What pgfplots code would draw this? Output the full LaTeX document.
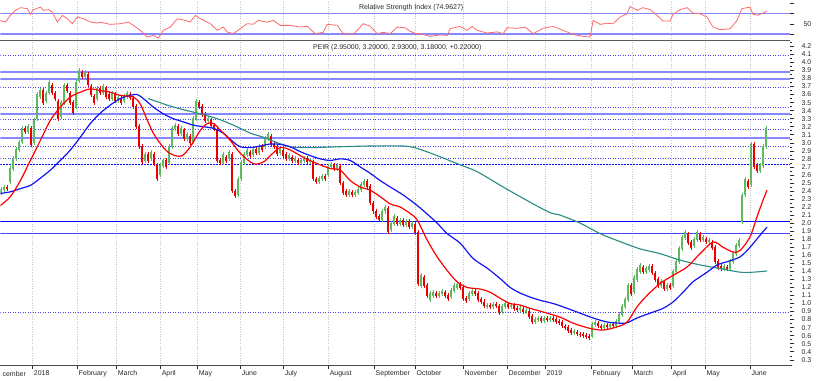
\documentclass[border=0pt]{standalone}
\usepackage{pgfplots}
\pgfplotsset{compat=1.18}
\usepackage{pgfplotstable}
\usepackage{fontspec}
\setmainfont{Liberation Sans}
\definecolor{upg}{RGB}{95,185,95}
\definecolor{dnr}{RGB}{235,0,0}
\definecolor{lbl}{RGB}{135,135,255}
\definecolor{dotbl}{RGB}{70,70,255}
\definecolor{dbl}{RGB}{20,20,240}
\definecolor{tealma}{RGB}{40,140,130}
\definecolor{rsir}{RGB}{255,105,105}
\definecolor{gridg}{RGB}{195,195,195}
\definecolor{txt}{RGB}{40,40,40}

\pgfplotstableread{
x o c
1 2.38 2.42
4 2.42 2.45
7 2.45 2.43
10 2.52 2.68
13 2.68 2.80
16 2.80 2.92
19 2.92 3.00
22 3.02 3.18
25 3.18 3.14
28 3.14 3.20
31 3.18 2.98
34 3.00 3.28
37 3.30 3.60
40 3.58 3.65
43 3.65 3.50
46 3.52 3.62
49 3.62 3.75
52 3.72 3.62
55 3.62 3.55
58 3.52 3.30
61 3.32 3.50
64 3.50 3.72
67 3.72 3.65
70 3.62 3.50
73 3.50 3.38
76 3.45 3.75
79 3.78 3.90
82 3.88 3.82
85 3.82 3.88
88 3.85 3.72
91 3.70 3.60
94 3.58 3.50
97 3.55 3.68
100 3.68 3.62
103 3.62 3.70
106 3.68 3.58
109 3.60 3.55
112 3.55 3.62
115 3.60 3.52
118 3.52 3.56
121 3.55 3.50
124 3.52 3.58
127 3.58 3.62
130 3.60 3.56
133 3.55 3.45
136 3.45 3.20
139 3.20 2.95
142 2.95 2.76
145 2.78 2.85
148 2.85 2.78
151 2.80 2.88
154 2.85 2.74
157 2.72 2.55
160 2.60 2.72
163 2.72 2.78
166 2.78 2.70
169 2.75 2.95
172 2.95 3.18
175 3.18 3.22
178 3.20 3.12
181 3.12 3.18
184 3.15 3.05
187 3.05 3.10
190 3.08 3.00
193 3.02 3.30
196 3.30 3.52
199 3.50 3.45
202 3.45 3.35
205 3.35 3.28
208 3.28 3.30
211 3.28 3.22
214 3.22 3.18
217 3.15 2.78
220 2.78 2.75
223 2.75 2.85
226 2.82 2.78
229 2.80 2.88
232 2.85 2.40
235 2.40 2.34
238 2.36 2.55
241 2.55 2.75
244 2.75 2.85
247 2.85 2.90
250 2.88 2.84
253 2.85 2.92
256 2.92 2.88
259 2.88 2.95
262 2.95 2.92
265 2.95 3.05
268 3.05 3.10
271 3.08 2.98
274 2.98 2.95
277 2.95 2.86
280 2.88 2.92
283 2.90 2.84
286 2.85 2.80
289 2.80 2.84
292 2.82 2.78
295 2.78 2.80
298 2.78 2.75
301 2.75 2.78
304 2.78 2.80
307 2.80 2.76
310 2.76 2.78
313 2.76 2.55
316 2.55 2.52
319 2.52 2.56
322 2.55 2.58
325 2.58 2.55
328 2.60 2.70
331 2.70 2.73
334 2.72 2.68
337 2.68 2.72
340 2.70 2.50
343 2.50 2.38
346 2.40 2.36
349 2.36 2.40
352 2.38 2.35
355 2.35 2.38
358 2.38 2.42
361 2.42 2.48
364 2.48 2.52
367 2.52 2.46
370 2.46 2.25
373 2.25 2.15
376 2.15 2.08
379 2.08 2.04
382 2.05 2.15
385 2.15 2.20
388 2.18 1.90
391 1.92 2.00
394 2.00 2.08
397 2.06 2.00
400 2.00 2.04
403 2.04 1.98
406 1.98 2.02
409 2.02 1.96
412 1.96 2.00
415 1.98 1.88
418 1.88 1.25
421 1.22 1.35
424 1.32 1.22
427 1.22 1.10
430 1.05 1.12
433 1.10 1.14
436 1.12 1.10
439 1.10 1.12
442 1.12 1.15
445 1.14 1.10
448 1.10 1.06
451 1.08 1.16
454 1.16 1.22
457 1.20 1.24
460 1.24 1.20
463 1.20 1.06
466 1.06 1.04
469 1.06 1.12
472 1.12 1.15
475 1.15 1.12
478 1.12 1.05
481 1.05 1.02
484 1.02 0.98
487 0.96 0.98
490 0.98 0.96
493 0.96 0.99
496 0.99 0.97
499 0.96 0.89
502 0.90 0.96
505 0.96 1.00
508 0.99 0.96
511 0.96 0.98
514 0.98 0.94
517 0.94 0.92
520 0.92 0.94
523 0.93 0.90
526 0.90 0.92
529 0.90 0.84
532 0.84 0.78
535 0.78 0.80
538 0.80 0.82
541 0.82 0.79
544 0.79 0.82
547 0.82 0.80
550 0.80 0.82
553 0.82 0.80
556 0.80 0.78
559 0.78 0.76
562 0.76 0.72
565 0.72 0.70
568 0.70 0.66
571 0.66 0.64
574 0.64 0.65
577 0.64 0.62
580 0.62 0.61
583 0.61 0.60
586 0.60 0.59
589 0.59 0.58
592 0.60 0.74
595 0.74 0.76
598 0.75 0.72
601 0.72 0.70
604 0.70 0.73
607 0.73 0.71
610 0.71 0.74
613 0.74 0.72
616 0.72 0.78
619 0.78 0.86
622 0.86 0.96
625 0.96 1.05
628 1.05 1.22
631 1.22 1.12
634 1.15 1.32
637 1.30 1.42
640 1.40 1.48
643 1.45 1.40
646 1.40 1.44
649 1.42 1.46
652 1.46 1.38
655 1.38 1.30
658 1.30 1.22
661 1.22 1.28
664 1.26 1.18
667 1.18 1.22
670 1.22 1.20
673 1.22 1.40
676 1.40 1.52
679 1.52 1.68
682 1.68 1.82
685 1.82 1.88
688 1.86 1.76
691 1.76 1.70
694 1.72 1.80
697 1.80 1.88
700 1.86 1.80
703 1.80 1.82
706 1.80 1.77
709 1.77 1.78
712 1.76 1.70
715 1.70 1.52
718 1.52 1.45
721 1.46 1.44
724 1.44 1.46
727 1.45 1.43
730 1.44 1.52
733 1.52 1.62
736 1.62 1.72
739 1.72 1.78
742 2.02 2.35
745 2.35 2.55
748 2.52 2.45
751 2.48 2.98
754 2.98 2.70
757 2.72 2.66
760 2.66 2.72
763 2.72 2.95
766 2.95 3.18
}\candles

\pgfplotsset{
  chartbase/.style={
    scale only axis, width=790bp,
    xmin=0, xmax=790,
    axis line style={draw=none},
    xtick={32,77,116,160,197,240,283,328,374,415,463,507,545,591,632,671,705,750},
    xmajorgrids,
    major grid style={gridg, dotted, line width=0.8bp},
    tick align=outside,
    xtick pos=left, ytick pos=right, yticklabel pos=right,
    tick style={txt, line width=0.5bp},
    major tick length=4bp, minor tick length=2bp,
    tick label style={font=\fontsize{7}{8}\selectfont, text=txt},
    /pgf/number format/assume math mode=true,
    clip=true,
  },
  candle/.style 2 args={only marks, mark size=0pt, mark options={draw=none, fill=none}, forget plot,
    error bars/.cd, y dir=both, y explicit, error mark=none,
    error bar style={draw=#1, line width=#2}},
}

\begin{document}
\begin{tikzpicture}
\path (0,0) rectangle (821bp,380bp);

% ---------- RSI panel ----------
\begin{axis}[chartbase, at={(0bp,340bp)}, anchor=south west, height=40bp,
  ymin=17.1, ymax=96.3,
  xticklabels={}, xtick style={draw=none},
  ytick={30,50,70,90}, yticklabels={,50,,},
  yticklabel style={anchor=west, xshift=6bp},
]
\addplot[color=lbl, mark=none, line width=1.5bp] coordinates {(0,70) (400,70) (790,70)};
\addplot[color=lbl, mark=none, line width=1.8bp] coordinates {(0,30) (400,30) (790,30)};
\addplot[color=rsir, line width=0.8bp, mark=none] coordinates {
(0,56.7) (5,53.4) (10,66.6) (15,76.5) (20,81.9) (27,80) (30,68.6) (33,78) (40,83) (43,76.5)
(48,78) (52,73.2) (57,53.4) (62,66.6) (67,60) (72,50.2) (77,63.3) (83,60) (90,53.4) (97,51.4)
(100,53) (110,48.8) (120,50) (128,53.4) (133,46.8) (140,37) (147,23.7) (153,27) (158,21.7) (163,37)
(170,43.5) (177,60) (185,56.7) (190,53.4) (195,66.6) (200,60) (210,50.2) (217,37) (223,43.5) (227,33.6)
(233,30.4) (240,40.3) (247,50.2) (253,49) (258,56.7) (267,53) (273,56.7) (280,46.8) (290,46.8) (300,43.5)
(307,45) (315,30.4) (323,33) (327,48.8) (337,47) (343,30.4) (353,29) (357,37) (363,50.2) (370,45)
(377,30.4) (383,33) (390,30.4) (397,43.5) (405,42) (410,35) (415,31) (420,30.4) (430,25) (440,28)
(447,27) (450,40.3) (460,44.8) (467,37) (472,44.8) (477,37) (487,31.6) (497,34) (503,30.4) (507,42.2)
(517,41) (525,43.5) (533,30.4) (543,41) (553,44.8) (563,37) (573,29) (583,25) (590,23.7) (593,56.7)
(600,48.8) (607,51) (613,50) (620,63.3) (627,70) (630,84.4) (637,76.5) (643,81.9) (650,78) (657,66.6)
(663,55.4) (670,55.4) (673,68.6) (680,78) (687,81.9) (693,71.2) (700,70) (707,63.3) (713,43.5) (720,38.3)
(730,40) (737,56.7) (742,80) (750,83) (753,68.6) (758,67) (767,74.96)};
\end{axis}

% ---------- Price panel ----------
\begin{axis}[chartbase, at={(0bp,15bp)}, anchor=south west, height=324bp,
  ymin=0.2323, ymax=4.262,
  xticklabels={2018,February,March,April,May,June,July,August,September,October,November,December,2019,February,March,April,May,June},
  xticklabel style={anchor=north west, xshift=-2bp, yshift=2bp},
  minor x tick num=3,
  ytick={0.3,0.4,...,4.25},
  minor y tick num=1,
  yticklabel style={anchor=west, xshift=4bp, /pgf/number format/.cd, fixed, fixed zerofill, precision=1},
]
% support / resistance lines
\addplot[color=lbl, mark=none, line width=1.8bp] coordinates {(0,3.885) (400,3.885) (790,3.885)};
\addplot[color=lbl, mark=none, line width=1.8bp] coordinates {(0,3.798) (400,3.798) (790,3.798)};
\addplot[color=lbl, mark=none, line width=1.8bp] coordinates {(0,3.358) (400,3.358) (790,3.358)};
\addplot[color=lbl, mark=none, line width=1.8bp] coordinates {(0,3.060) (400,3.060) (790,3.060)};
\addplot[color=dotbl, mark=none, dash pattern=on 1bp off 1.5bp, line width=1bp] coordinates {(0,4.084) (400,4.084) (790,4.084)};
\addplot[color=dotbl, mark=none, dash pattern=on 1bp off 1.5bp, line width=1bp] coordinates {(0,3.686) (400,3.686) (790,3.686)};
\addplot[color=dotbl, mark=none, dash pattern=on 1bp off 1.5bp, line width=1bp] coordinates {(0,3.440) (400,3.440) (790,3.440)};
\addplot[color=dotbl, mark=none, dash pattern=on 1bp off 1.5bp, line width=1bp] coordinates {(0,3.288) (400,3.288) (790,3.288)};
\addplot[color=dotbl, mark=none, dash pattern=on 1bp off 1.5bp, line width=1bp] coordinates {(0,3.168) (400,3.168) (790,3.168)};
\addplot[color=dotbl, mark=none, dash pattern=on 1bp off 1.5bp, line width=1bp] coordinates {(0,2.948) (400,2.948) (790,2.948)};
\addplot[color=dotbl, mark=none, dash pattern=on 1bp off 1.5bp, line width=1bp] coordinates {(0,2.807) (400,2.807) (790,2.807)};
\addplot[color=dotbl, mark=none, dash pattern=on 1bp off 1.5bp, line width=1bp] coordinates {(0,0.888) (400,0.888) (790,0.888)};
\addplot[color=blue, mark=none, dash pattern=on 2bp off 1bp, line width=1.5bp] coordinates {(0,2.732) (400,2.732) (790,2.732)};
\addplot[color=blue, mark=none, line width=1.5bp] coordinates {(0,2.023) (400,2.023) (790,2.023)};
\addplot[color=dotbl, mark=none, line width=1.1bp] coordinates {(0,1.870) (400,1.870) (790,1.870)};

% candles: wicks
\addplot[candle={upg}{0.6bp}]
  table[x=x, y expr={\thisrow{c}>=\thisrow{o} ? (\thisrow{o}+\thisrow{c})/2 : -10},
        y error expr={abs(\thisrow{c}-\thisrow{o})/2+0.03}] {\candles};
\addplot[candle={dnr}{0.6bp}]
  table[x=x, y expr={\thisrow{c}<\thisrow{o} ? (\thisrow{o}+\thisrow{c})/2 : -10},
        y error expr={abs(\thisrow{c}-\thisrow{o})/2+0.03}] {\candles};
% candles: bodies
\addplot[candle={upg}{2bp}]
  table[x=x, y expr={\thisrow{c}>=\thisrow{o} ? (\thisrow{o}+\thisrow{c})/2 : -10},
        y error expr={abs(\thisrow{c}-\thisrow{o})/2+0.005}] {\candles};
\addplot[candle={dnr}{2bp}]
  table[x=x, y expr={\thisrow{c}<\thisrow{o} ? (\thisrow{o}+\thisrow{c})/2 : -10},
        y error expr={abs(\thisrow{c}-\thisrow{o})/2+0.005}] {\candles};

% moving averages
\addplot[color=tealma, line width=1.1bp, mark=none, smooth] coordinates {
(148,3.55) (173,3.445) (200,3.36) (217,3.30) (233,3.22) (250,3.12) (263,3.07) (273,3.02) (290,2.95)
(310,2.94) (337,2.95) (370,2.96) (403,2.96) (417,2.93) (437,2.84) (457,2.74) (477,2.64) (503,2.45)
(530,2.26) (550,2.13) (560,2.10) (580,2.00) (600,1.87) (620,1.77) (640,1.68) (660,1.62) (680,1.54)
(700,1.48) (720,1.435) (740,1.39) (753,1.39) (767,1.405)};
\addplot[color=dbl, line width=1.2bp, mark=none, smooth] coordinates {
(0,2.37) (10,2.39) (20,2.43) (30,2.47) (40,2.56) (50,2.66) (60,2.78) (70,2.91) (80,3.07) (90,3.24)
(100,3.37) (110,3.47) (120,3.55) (130,3.59) (137,3.60) (143,3.55) (153,3.445) (163,3.36) (173,3.30)
(183,3.26) (193,3.22) (203,3.20) (213,3.18) (223,3.12) (233,3.01) (240,2.95) (250,2.94) (260,2.96)
(270,2.985) (280,2.98) (290,2.95) (300,2.89) (310,2.84) (320,2.80) (330,2.78) (340,2.80) (350,2.78)
(360,2.70) (370,2.62) (380,2.53) (390,2.45) (403,2.35) (417,2.22) (430,2.08) (437,2.00) (447,1.87)
(460,1.75) (473,1.56) (487,1.44) (500,1.31) (510,1.20) (520,1.13) (530,1.08) (540,1.04) (553,1.00)
(567,0.94) (580,0.88) (593,0.82) (607,0.77) (620,0.755) (627,0.76) (637,0.82) (650,0.88) (663,0.94)
(673,1.02) (683,1.14) (693,1.27) (707,1.39) (717,1.48) (727,1.52) (740,1.58) (750,1.70) (760,1.85) (767,1.95)};
\addplot[color=red, line width=1.2bp, mark=none, smooth] coordinates {
(0,2.22) (10,2.33) (20,2.53) (30,2.78) (40,3.03) (50,3.28) (60,3.445) (70,3.57) (80,3.63) (90,3.67)
(100,3.65) (110,3.63) (120,3.59) (133,3.57) (140,3.48) (147,3.28) (153,3.12) (160,2.99) (167,2.89)
(175,2.84) (182,2.84) (190,2.95) (200,3.155) (207,3.24) (213,3.24) (220,3.16) (230,3.03) (240,2.87)
(253,2.74) (263,2.76) (270,2.84) (280,2.94) (290,2.91) (303,2.82) (317,2.74) (330,2.68) (340,2.66)
(350,2.53) (360,2.45) (370,2.41) (380,2.33) (390,2.24) (400,2.20) (410,2.12) (417,2.04) (427,1.79)
(437,1.58) (447,1.41) (457,1.27) (467,1.20) (480,1.18) (490,1.14) (500,1.065) (510,1.00) (520,0.98)
(530,0.94) (540,0.905) (560,0.83) (573,0.755) (590,0.69) (603,0.67) (617,0.71) (627,0.77) (637,0.96)
(647,1.10) (660,1.25) (673,1.35) (687,1.455) (700,1.62) (713,1.765) (723,1.70) (733,1.64) (740,1.66)
(750,1.83) (757,2.08) (763,2.285) (767,2.41)};
\end{axis}

\draw[gray!70!black, line width=0.8bp] (0,339.5bp) -- (790bp,339.5bp);
\draw[gray!60!black, line width=0.8bp] (0,15bp) -- (792bp,15bp);
\node[anchor=west, font=\fontsize{7}{8}\selectfont, text=txt, inner sep=0pt] at (2bp,6.5bp) {cember};
\node[font=\fontsize{7}{8}\selectfont, text=txt] at (411bp,373bp) {Relative Strength Index (74.9627)};
\node[font=\fontsize{7}{8}\selectfont, text=txt] at (397bp,333bp) {PEIR (2.95000, 3.20000, 2.93000, 3.18000, +0.22000)};
\end{tikzpicture}
\end{document}
